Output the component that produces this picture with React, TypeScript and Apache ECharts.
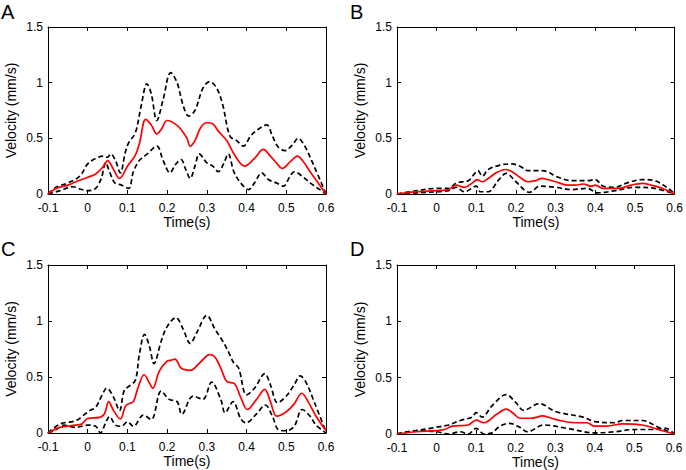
import React, { useEffect, useRef } from "react";
import * as echarts from "echarts";

type Pt = [number, number];

const panelLabels = ["A", "B", "C", "D"];
const xTitle = "Time(s)";
const yTitle = "Velocity (mm/s)";

// Panel A
const aMean: Pt[] = [[-0.1,0],[-0.08,0.05],[-0.05,0.08],[-0.03,0.11],[0,0.15],[0.02,0.18],[0.04,0.25],[0.05,0.3],[0.065,0.22],[0.08,0.14],[0.1,0.25],[0.12,0.35],[0.13,0.45],[0.146,0.67],[0.16,0.62],[0.174,0.54],[0.185,0.58],[0.2,0.66],[0.22,0.63],[0.235,0.58],[0.25,0.5],[0.258,0.43],[0.27,0.48],[0.285,0.6],[0.3,0.64],[0.315,0.63],[0.33,0.56],[0.35,0.48],[0.37,0.35],[0.395,0.25],[0.42,0.32],[0.442,0.4],[0.46,0.34],[0.475,0.28],[0.49,0.23],[0.51,0.29],[0.528,0.34],[0.545,0.28],[0.56,0.2],[0.58,0.1],[0.6,0]];
const aUpper: Pt[] = [[-0.1,0],[-0.08,0.06],[-0.05,0.1],[-0.02,0.16],[0,0.27],[0.02,0.32],[0.04,0.34],[0.05,0.33],[0.058,0.36],[0.07,0.3],[0.082,0.19],[0.095,0.38],[0.103,0.46],[0.12,0.55],[0.135,0.8],[0.149,0.99],[0.16,0.9],[0.174,0.66],[0.19,0.85],[0.209,1.09],[0.225,1.0],[0.24,0.8],[0.254,0.7],[0.27,0.75],[0.29,0.95],[0.307,1.01],[0.325,0.95],[0.34,0.8],[0.358,0.52],[0.375,0.48],[0.392,0.43],[0.41,0.52],[0.425,0.57],[0.451,0.62],[0.465,0.52],[0.48,0.42],[0.497,0.39],[0.515,0.44],[0.53,0.5],[0.545,0.44],[0.57,0.25],[0.6,0]];
const aLower: Pt[] = [[-0.1,0],[-0.07,0.03],[-0.037,0.065],[-0.015,0.04],[0,0.03],[0.02,0.05],[0.035,0.15],[0.045,0.28],[0.055,0.2],[0.068,0.1],[0.085,0.08],[0.103,0.05],[0.115,0.2],[0.13,0.3],[0.15,0.36],[0.174,0.43],[0.19,0.3],[0.207,0.19],[0.222,0.27],[0.235,0.31],[0.247,0.22],[0.258,0.14],[0.27,0.25],[0.281,0.36],[0.3,0.28],[0.315,0.25],[0.329,0.2],[0.342,0.27],[0.354,0.36],[0.368,0.2],[0.385,0.1],[0.405,0.04],[0.42,0.1],[0.438,0.19],[0.455,0.13],[0.475,0.1],[0.493,0.07],[0.508,0.15],[0.52,0.2],[0.54,0.16],[0.56,0.1],[0.58,0.05],[0.6,0]];

// Panel B
const bMean: Pt[] = [[-0.1,0],[-0.07,0.015],[-0.05,0.02],[0,0.03],[0.03,0.04],[0.049,0.08],[0.07,0.06],[0.09,0.1],[0.102,0.13],[0.115,0.11],[0.13,0.14],[0.15,0.19],[0.173,0.22],[0.19,0.2],[0.21,0.15],[0.23,0.11],[0.25,0.12],[0.265,0.14],[0.28,0.13],[0.3,0.11],[0.33,0.08],[0.35,0.08],[0.37,0.09],[0.39,0.07],[0.4,0.08],[0.42,0.05],[0.46,0.05],[0.49,0.08],[0.52,0.095],[0.54,0.08],[0.57,0.05],[0.6,0]];
const bUpper: Pt[] = [[-0.1,0],[-0.05,0.03],[0,0.05],[0.03,0.05],[0.05,0.1],[0.08,0.12],[0.095,0.18],[0.104,0.21],[0.115,0.16],[0.13,0.22],[0.16,0.26],[0.19,0.27],[0.21,0.25],[0.23,0.21],[0.26,0.21],[0.28,0.2],[0.3,0.16],[0.34,0.12],[0.38,0.12],[0.4,0.13],[0.42,0.07],[0.45,0.06],[0.48,0.1],[0.52,0.13],[0.55,0.12],[0.58,0.06],[0.6,0]];
const bLower: Pt[] = [[-0.1,0],[-0.05,0.01],[0,0.02],[0.03,0.03],[0.049,0.06],[0.07,0.02],[0.1,0.07],[0.11,0.02],[0.13,0.02],[0.155,0.12],[0.175,0.185],[0.2,0.11],[0.22,0.04],[0.234,0.015],[0.26,0.07],[0.3,0.06],[0.34,0.04],[0.38,0.05],[0.405,0.01],[0.45,0.03],[0.5,0.06],[0.55,0.05],[0.6,0]];

// Panel C
const cMean: Pt[] = [[-0.1,0],[-0.07,0.05],[-0.03,0.07],[-0.015,0.08],[0,0.13],[0.03,0.14],[0.042,0.17],[0.053,0.28],[0.065,0.2],[0.082,0.125],[0.095,0.24],[0.103,0.26],[0.115,0.28],[0.128,0.42],[0.142,0.52],[0.155,0.45],[0.164,0.4],[0.18,0.55],[0.199,0.64],[0.21,0.65],[0.22,0.66],[0.235,0.58],[0.258,0.56],[0.28,0.62],[0.3,0.69],[0.308,0.7],[0.32,0.68],[0.335,0.58],[0.35,0.46],[0.37,0.44],[0.385,0.32],[0.402,0.21],[0.425,0.3],[0.446,0.39],[0.46,0.28],[0.476,0.15],[0.5,0.19],[0.52,0.26],[0.539,0.355],[0.555,0.28],[0.575,0.15],[0.6,0.02]];
const cUpper: Pt[] = [[-0.1,0],[-0.07,0.08],[-0.03,0.11],[-0.01,0.16],[0.005,0.2],[0.02,0.23],[0.035,0.33],[0.048,0.4],[0.065,0.32],[0.08,0.2],[0.092,0.38],[0.105,0.42],[0.12,0.47],[0.13,0.7],[0.143,0.88],[0.155,0.78],[0.167,0.62],[0.185,0.82],[0.2,0.95],[0.222,1.03],[0.24,0.93],[0.258,0.8],[0.275,0.9],[0.3,1.05],[0.32,0.93],[0.34,0.82],[0.355,0.72],[0.367,0.63],[0.38,0.58],[0.4,0.34],[0.42,0.4],[0.446,0.53],[0.46,0.43],[0.478,0.27],[0.5,0.33],[0.52,0.43],[0.535,0.51],[0.55,0.45],[0.57,0.28],[0.6,0.01]];
const cLower: Pt[] = [[-0.1,0],[-0.08,0.03],[-0.06,0.07],[-0.03,0.05],[0,0.07],[0.02,0.06],[0.032,0],[0.045,0.09],[0.055,0.146],[0.07,0.07],[0.085,0.06],[0.1,0.1],[0.115,0.06],[0.14,0.16],[0.16,0.12],[0.185,0.375],[0.205,0.3],[0.225,0.28],[0.237,0.167],[0.265,0.33],[0.29,0.3],[0.312,0.455],[0.335,0.3],[0.346,0.18],[0.366,0.28],[0.385,0.13],[0.398,0.09],[0.425,0.17],[0.447,0.25],[0.465,0.15],[0.48,0.03],[0.5,0.02],[0.52,0.06],[0.54,0.21],[0.56,0.15],[0.575,0.07],[0.6,0]];

// Panel D
const dMean: Pt[] = [[-0.1,0],[-0.05,0.02],[0,0.03],[0.02,0.04],[0.04,0.07],[0.08,0.08],[0.1,0.124],[0.12,0.1],[0.15,0.17],[0.176,0.22],[0.195,0.18],[0.21,0.14],[0.24,0.14],[0.268,0.16],[0.3,0.13],[0.35,0.1],[0.38,0.1],[0.4,0.07],[0.43,0.07],[0.47,0.09],[0.52,0.08],[0.56,0.04],[0.6,0]];
const dUpper: Pt[] = [[-0.1,0],[-0.05,0.03],[0,0.06],[0.03,0.08],[0.06,0.12],[0.09,0.15],[0.1,0.19],[0.115,0.15],[0.14,0.25],[0.176,0.35],[0.2,0.28],[0.22,0.21],[0.26,0.27],[0.3,0.2],[0.37,0.15],[0.4,0.11],[0.45,0.1],[0.47,0.12],[0.52,0.12],[0.56,0.06],[0.6,0]];
const dLower: Pt[] = [[-0.1,0],[-0.05,0.03],[0,0.02],[0.03,0],[0.06,0.02],[0.08,0],[0.1,0.05],[0.12,0],[0.14,0.01],[0.16,0.07],[0.184,0.095],[0.21,0.06],[0.23,0.02],[0.27,0.08],[0.33,0.05],[0.4,0.01],[0.45,0.02],[0.5,0.04],[0.55,0.04],[0.58,0.05],[0.6,0]];

const panels = [
  { mean: aMean, upper: aUpper, lower: aLower },
  { mean: bMean, upper: bUpper, lower: bLower },
  { mean: cMean, upper: cUpper, lower: cLower },
  { mean: dMean, upper: dUpper, lower: dLower },
];

const X_MIN = -0.1, X_MAX = 0.6, X_STEP = 0.1;
const Y_MIN = 0, Y_MAX = 1.5, Y_STEP = 0.5;

const FONT = "'Liberation Sans', Arial, sans-serif";

const grids = [
  { left: 48, top: 27, width: 278, height: 167 },
  { left: 397, top: 27, width: 278, height: 167 },
  { left: 48, top: 265, width: 278, height: 168 },
  { left: 397, top: 265, width: 277, height: 169 },
];
const letterPos = [
  { x: 1, y: 2 },
  { x: 350, y: 2 },
  { x: 1, y: 239 },
  { x: 350, y: 239 },
];

export default function App() {
  const ref = useRef<HTMLDivElement>(null);
  useEffect(() => {
    if (!ref.current) return;
    const chart = echarts.init(ref.current, undefined, { renderer: "svg" });
    const xAxis: any[] = [];
    const yAxis: any[] = [];
    const series: any[] = [];
    const line = { show: true, onZero: false, lineStyle: { color: "#000", width: 1 } };
    const tick = { show: true, inside: true, length: 4, lineStyle: { color: "#000", width: 1 } };
    panels.forEach((p, i) => {
      xAxis.push({
        type: "value", gridIndex: i, position: "bottom", min: X_MIN, max: X_MAX, interval: X_STEP,
        axisLine: line, axisTick: tick, splitLine: { show: false },
        axisLabel: { color: "#000", fontSize: 12, lineHeight: 12, fontFamily: FONT, margin: 8 },
        name: xTitle, nameLocation: "middle", nameGap: 21,
        nameTextStyle: { color: "#000", fontSize: 14, fontFamily: FONT },
      });
      xAxis.push({
        type: "value", gridIndex: i, position: "top", min: X_MIN, max: X_MAX, interval: X_STEP,
        axisLine: line, axisTick: tick, splitLine: { show: false }, axisLabel: { show: false },
      });
      yAxis.push({
        type: "value", gridIndex: i, position: "left", min: Y_MIN, max: Y_MAX, interval: Y_STEP,
        axisLine: line, axisTick: tick, splitLine: { show: false },
        axisLabel: { color: "#000", fontSize: 12, lineHeight: 11, fontFamily: FONT, margin: 5 },
        name: yTitle, nameLocation: "middle", nameGap: 30,
        nameTextStyle: { color: "#000", fontSize: 14, fontFamily: FONT },
      });
      yAxis.push({
        type: "value", gridIndex: i, position: "right", min: Y_MIN, max: Y_MAX, interval: Y_STEP,
        axisLine: line, axisTick: tick, splitLine: { show: false }, axisLabel: { show: false },
      });
      const common = {
        type: "line", xAxisIndex: 2 * i, yAxisIndex: 2 * i, showSymbol: false, symbol: "none",
        smooth: 0.35, clip: true, silent: true,
      };
      series.push({ ...common, name: `${panelLabels[i]} upper`, data: p.upper,
        lineStyle: { color: "#000", width: 1.7, type: [5, 3] } });
      series.push({ ...common, name: `${panelLabels[i]} lower`, data: p.lower,
        lineStyle: { color: "#000", width: 1.7, type: [5, 3] } });
      series.push({ ...common, name: `${panelLabels[i]} mean`, data: p.mean,
        lineStyle: { color: "#ff0000", width: 1.7 } });
    });
    chart.setOption({
      animation: false,
      backgroundColor: "#fff",
      grid: grids.map((g) => ({ ...g, containLabel: false })),
      xAxis,
      yAxis,
      series,
      graphic: panelLabels.map((t, i) => ({
        type: "text", left: letterPos[i].x, top: letterPos[i].y,
        style: { text: t, fontSize: 20, fontFamily: FONT, fill: "#000" },
      })),
    });
    return () => chart.dispose();
  }, []);
  return (
    <div
      ref={ref}
      style={{ position: "absolute", left: 0, top: 0, width: 686, height: 470, background: "#fff" }}
    />
  );
}
